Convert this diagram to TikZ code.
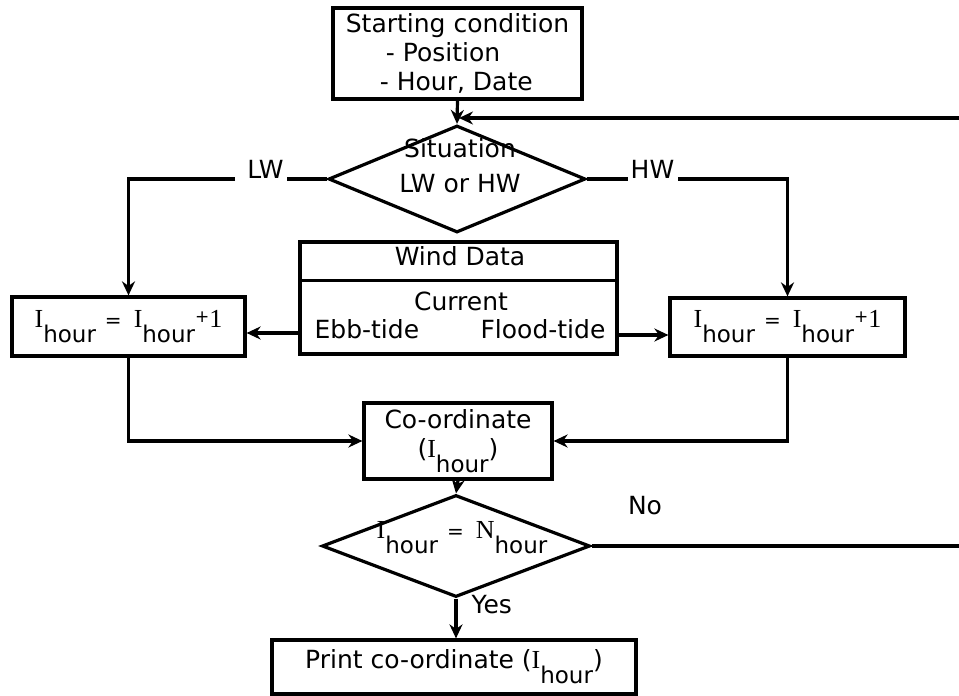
\documentclass[tikz,border=0pt]{standalone}
\usepackage{fontspec}
\setmainfont{DejaVu Sans}
\newfontfamily\serf{Liberation Serif}
\usetikzlibrary{shapes.geometric,arrows.meta,calc}
\newcommand\Ihr{{\serf\fontsize{26}{26}\selectfont I}\raisebox{-15pt}{\fontsize{23}{23}\selectfont hour}}
\newcommand\Nhr{{\serf\fontsize{26}{26}\selectfont N}\raisebox{-15pt}{\fontsize{23}{23}\selectfont hour}}
\newcommand\eqs{\hspace{9pt}{\fontsize{20}{20}\selectfont =}\hspace{12pt}}
\newcommand\plusone{\raisebox{5pt}{\fontsize{17}{17}\selectfont +}{\serf\fontsize{26}{26}\selectfont 1}}
\begin{document}
\begin{tikzpicture}[x=1pt,y=-1pt, line width=3.2pt,
  every node/.style={font=\fontsize{25}{29}\selectfont},
  box/.style={draw, rectangle, inner sep=0pt, align=center},
  dia/.style={draw, diamond, inner sep=0pt},
  lbl/.style={inner sep=0pt},
  arr/.style={-{Stealth[length=14pt,width=13pt]}}]
\useasboundingbox (0,0) rectangle (959,696);
\clip (0,0) rectangle (959,696);

\node[box, minimum width=249pt, minimum height=91pt, align=left] (start) at (457.5,53.5)
  {Starting condition\\\hspace*{40pt}- Position\\\hspace*{34pt}- Hour, Date};

\node[dia, minimum width=257pt, minimum height=107pt] (d1) at (457,179) {};
\node[lbl, align=center] (d1t) at (460,166) {Situation\\[6pt]LW or HW};

\coordinate (lwa) at (287,179);
\coordinate (lwb) at (235,179);
\node[lbl, anchor=base] (lw) at (265.5,178) {LW};
\coordinate (hwa) at (628,179);
\coordinate (hwb) at (678,179);
\node[lbl, anchor=base] (hw) at (652.5,178) {HW};

\node[box, minimum width=317pt, minimum height=112pt] (wind) at (458.5,298) {};
\draw ([yshift=-40pt]wind.north west) -- ([yshift=-40pt]wind.north east);
\node[lbl, anchor=base] (windt) at (460,265) {Wind Data};
\node[lbl, anchor=base] (curt) at (461,310) {Current};
\node[lbl, anchor=base west] (ebb) at (313,338) {Ebb-tide};
\node[lbl, anchor=base east] (flood) at (607,338) {Flood-tide};

\node[box, minimum width=233pt, minimum height=59pt] (b1) at (128.5,326.5) {\Ihr\eqs\Ihr\plusone};
\node[box, minimum width=235pt, minimum height=58pt] (b2) at (787.5,327) {\Ihr\eqs\Ihr\plusone};

\node[box, minimum width=188pt, minimum height=76pt] (cb) at (458,441) {Co-ordinate\\(\Ihr)};

\node[dia, minimum width=268pt, minimum height=102pt] (d2) at (456,546) {};
\node[lbl] (d2t) at (462,538) {\Ihr\eqs\Nhr};

\node[lbl] (no) at (645,506) {No};
\node[lbl, anchor=west] (yes) at (470,605) {Yes};

\node[box, minimum width=364pt, minimum height=54pt] (pr) at (454,667) {Print co-ordinate (\Ihr)};

\draw[arr] (start.south) -- (d1.north);
\draw (d1.west) -- (lwa);
\draw[arr] (lwb) -| (b1.north);
\draw (d1.east) -- (hwa);
\draw[arr] (hwb) -| (b2.north);
\coordinate (el) at ([yshift=-35pt]wind.west);
\coordinate (er) at ([yshift=-37pt]wind.east);
\draw[arr] (el) -- (el -| b1.east);
\draw[arr] (er) -- (er -| b2.west);
\draw[arr] (b1.south) |- (cb.west);
\draw[arr] (b2.south) |- (cb.east);
\draw[arr] (cb.south) -- (d2.north);
\draw[arr] (d2.south) -- (d2.south |- pr.north);
\coordinate (loopin) at (459,118);
\coordinate (farR) at (975,546);
\draw[arr] (d2.east) -- (farR) |- (loopin);
\end{tikzpicture}
\end{document}
